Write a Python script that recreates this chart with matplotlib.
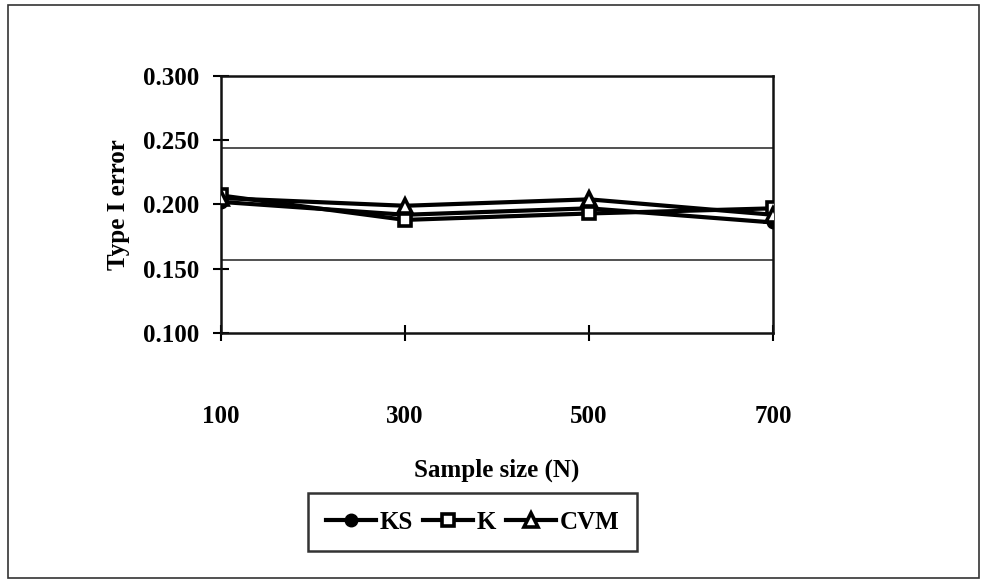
import matplotlib.pyplot as plt
from matplotlib.patches import Rectangle

# Data
sample_sizes = [100, 300, 500, 700]
ks_error = [0.202, 0.192, 0.197, 0.186]
k_error = [0.207, 0.188, 0.193, 0.197]
cvm_error = [0.205, 0.199, 0.204, 0.192]

y_ticks = [0.100, 0.150, 0.200, 0.250, 0.300]
grid_levels = [0.244, 0.157]


def main():
    plt.rcParams['font.family'] = ['Liberation Serif', 'DejaVu Serif']
    plt.rcParams['font.weight'] = 'bold'

    fig = plt.figure(figsize=(9.85, 5.81), dpi=100)
    ax = fig.add_axes([0.2244, 0.4269, 0.5604, 0.4423])

    # Outer frame around the whole chart
    fig.patches.append(Rectangle((0.008, 0.006), 0.986, 0.985, transform=fig.transFigure,
                                 fill=False, edgecolor='#333333', linewidth=1.2))

    for y in grid_levels:
        ax.axhline(y, color='#222222', linewidth=1.1, zorder=1)

    ax.plot(sample_sizes, ks_error, color='black', linewidth=3, marker='o',
            markersize=9, markerfacecolor='black', label='KS', zorder=3)
    ax.plot(sample_sizes, k_error, color='black', linewidth=3, marker='s',
            markersize=9, markerfacecolor='white', markeredgewidth=2.6, label='K', zorder=3)
    ax.plot(sample_sizes, cvm_error, color='black', linewidth=3, marker='^',
            markersize=10, markerfacecolor='white', markeredgewidth=2.6, label='CVM', zorder=3)

    ax.set_xlim(100, 700)
    ax.set_ylim(0.100, 0.300)
    ax.set_xticks(sample_sizes)
    ax.set_xticklabels([str(n) for n in sample_sizes])
    ax.set_yticks(y_ticks)
    ax.set_yticklabels([f'{v:.3f}' for v in y_ticks])

    for side in ['left', 'right', 'top', 'bottom']:
        ax.spines[side].set_linewidth(1.8)
        ax.spines[side].set_color('#111111')

    ax.tick_params(axis='y', direction='inout', length=12, width=1.5, labelsize=18, pad=10)
    ax.tick_params(axis='x', direction='inout', length=12, width=1.5, labelsize=18, pad=46)

    ax.set_ylabel('Type I error', fontsize=18, fontweight='bold', labelpad=9)
    ax.set_xlabel('Sample size (N)', fontsize=18, fontweight='bold', labelpad=22)

    leg = ax.legend(loc='upper center', bbox_to_anchor=(0.456, -0.623), ncol=3,
                    fontsize=18, frameon=True, fancybox=False, handlelength=2.0,
                    handletextpad=0.15, columnspacing=0.4, borderpad=0.7,
                    borderaxespad=0)
    leg.get_frame().set_edgecolor('black')
    leg.get_frame().set_linewidth(1.8)

    fig.savefig('out.png', dpi=100)


if __name__ == "__main__":
    main()
